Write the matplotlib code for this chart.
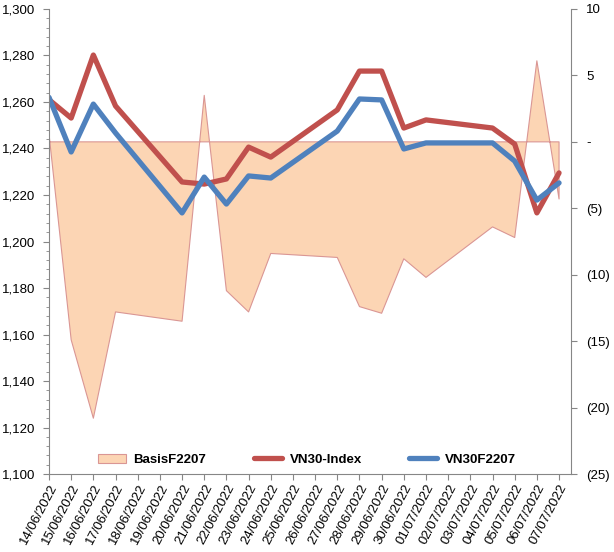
import numpy as np
import pandas as pd
import matplotlib
matplotlib.use("Agg")
import matplotlib.pyplot as plt
from matplotlib.ticker import FuncFormatter, MultipleLocator
from matplotlib.patches import Patch
from matplotlib.lines import Line2D

plt.rcParams['font.family'] = ['Liberation Sans', 'DejaVu Sans']

# trading days and values
trade_days = ['14/06/2022', '15/06/2022', '16/06/2022', '17/06/2022', '20/06/2022',
              '21/06/2022', '22/06/2022', '23/06/2022', '24/06/2022', '27/06/2022',
              '28/06/2022', '29/06/2022', '30/06/2022', '01/07/2022', '04/07/2022',
              '05/07/2022', '06/07/2022', '07/07/2022']
vn30_index = [1261.0, 1253.1, 1280.2, 1258.3, 1225.6, 1224.7, 1226.9, 1240.6, 1236.3,
              1256.6, 1273.3, 1273.3, 1248.8, 1252.3, 1248.8, 1241.9, 1212.3, 1229.5]
vn30f2207 = [1262.0, 1238.5, 1259.1, 1246.7, 1212.3, 1227.7, 1216.1, 1228.2, 1227.3,
             1247.5, 1261.3, 1260.9, 1239.8, 1242.4, 1242.4, 1234.6, 1217.8, 1225.2]
basis = [0.6, -14.9, -20.8, -12.8, -13.5, 3.5, -11.2, -12.8, -8.4,
         -8.7, -12.4, -12.9, -8.8, -10.2, -6.4, -7.2, 6.1, -4.3]

# axis labels: every calendar day
tick_dates = pd.date_range('2022-06-14', '2022-07-07', freq='D')
start = tick_dates[0]
x = np.array([(pd.to_datetime(d, dayfirst=True) - start).days for d in trade_days])
xt = np.array([(d - start).days for d in tick_dates])

red = '#C0504D'
blue = '#4F81BD'
fill = '#FCD5B4'
edge = '#DA9694'
grey = '#868686'

fig = plt.figure(figsize=(6.14, 5.52), dpi=100)
ax = fig.add_axes([0.0798, 0.1413, 0.8502, 0.8424])
ax2 = ax.twinx()

# basis area on the secondary axis, drawn behind lines
ax2.fill_between(x, 0, basis, facecolor=fill, edgecolor='none', zorder=1)
poly_x = np.concatenate([[x[0]], x, [x[-1]]])
poly_y = np.concatenate([[0], basis, [0]])
ax2.plot(np.append(poly_x, x[0]), np.append(poly_y, 0), color=edge, lw=0.8, zorder=2)
ax2.set_ylim(-25, 10)
ax2.yaxis.set_major_locator(MultipleLocator(5))

def acct(v, pos):
    if abs(v) < 1e-9:
        return '-'
    if v < 0:
        return '(%d)' % abs(v)
    return '%d' % v

ax2.yaxis.set_major_formatter(FuncFormatter(acct))

ax.set_zorder(ax2.get_zorder() + 1)
ax.patch.set_visible(False)

ax.plot(x, vn30_index, color=red, lw=3.8, solid_capstyle='round', solid_joinstyle='round')
ax.plot(x, vn30f2207, color=blue, lw=3.8, solid_capstyle='round', solid_joinstyle='round')

ax.set_xlim(0, 23.54)
ax.set_ylim(1100, 1300)
ax.yaxis.set_major_locator(MultipleLocator(20))
ax.yaxis.set_minor_locator(MultipleLocator(4))
ax.yaxis.set_major_formatter(FuncFormatter(lambda v, p: '{:,.0f}'.format(v)))
ax.set_xticks(xt)
ax.set_xticklabels([d.strftime('%d/%m/%Y') for d in tick_dates], rotation=62,
                   ha='right', rotation_mode='anchor')

for a in (ax, ax2):
    for s in a.spines.values():
        s.set_color(grey)
    a.spines['top'].set_visible(False)
ax.spines['right'].set_visible(False)
ax2.spines['left'].set_visible(False)
ax2.spines['bottom'].set_visible(False)

ax.tick_params(axis='y', which='major', length=4, color=grey, labelsize=9.5, pad=6)
ax.tick_params(axis='y', which='minor', length=2, color=grey)
ax.tick_params(axis='x', length=4, color=grey, labelsize=9.5, pad=2)
ax2.tick_params(axis='y', length=4, color=grey, labelsize=9.5, pad=7)

handles = [Patch(facecolor=fill, edgecolor=edge, lw=0.8),
           Line2D([], [], color=red, lw=3.8, solid_capstyle='round'),
           Line2D([], [], color=blue, lw=3.8, solid_capstyle='round')]
ax.legend(handles, ['BasisF2207', 'VN30-Index', 'VN30F2207'], ncol=3, frameon=False,
          loc='lower center', bbox_to_anchor=(0.494, -0.008), prop={'weight': 'bold', 'size': 9.5},
          handlelength=2.1, handletextpad=0.6, columnspacing=3.6)

fig.savefig('out.png', dpi=100)
